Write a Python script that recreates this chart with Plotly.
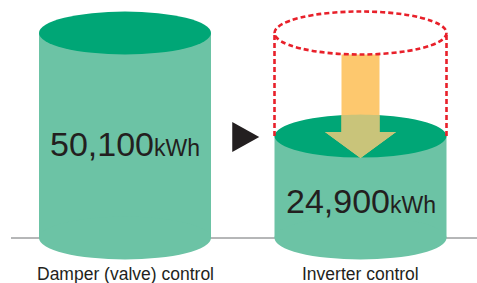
import math
import plotly.graph_objects as go

# ---- data ----
categories = ["Damper (valve) control", "Inverter control"]
values = [50100, 24900]
value_labels = ["50,100", "24,900"]
unit = "kWh"

# ---- styling ----
BODY = "#6CC3A5"
TOP = "#00A676"
ORANGE = "#FDC86E"
OLIVE = "#C9C47A"
RED = "#E8202A"
INK = "#231F20"
FONT = "Liberation Sans, Arial, sans-serif"

W, H = 477, 283
BASE_PX = 238                 # pixel row of the zero line
PX_PER_KWH = 205 / max(values)
X0_PX, DX_PX = 125, 235.5     # pixel of first category, spacing

yr = [-(H - BASE_PX) / PX_PER_KWH, BASE_PX / PX_PER_KWH]
xr = [-X0_PX / DX_PX, (W - X0_PX) / DX_PX]


def dx(p):
    return p / DX_PX


def dy(p):
    return p / PX_PER_KWH


HW = dx(86)      # cylinder half width
RY = dy(21.5)    # ellipse half height

shapes = []
# baseline
shapes.append(dict(type="line", xref="x", yref="y", x0=xr[0] + dx(11), x1=xr[1] + dx(10),
                   y0=0, y1=0, line=dict(color="#6D6E71", width=1)))

for i, v in enumerate(values):
    shapes.append(dict(type="rect", x0=i - HW, x1=i + HW, y0=0, y1=v,
                       fillcolor=BODY, line=dict(width=0)))
    shapes.append(dict(type="circle", x0=i - HW, x1=i + HW, y0=-RY, y1=RY,
                       fillcolor=BODY, line=dict(width=0)))
    shapes.append(dict(type="circle", x0=i - HW, x1=i + HW, y0=v - RY, y1=v + RY,
                       fillcolor=TOP, line=dict(width=0)))

# arrow on the second cylinder, from the old level down to the new level
xc = 1
shaft_hw, head_hw = dx(19), dx(35.5)
y_top = values[0] - RY
y_head = values[1] + dy(4)
y_tip = values[1] - dy(22)
arrow = [(xc - shaft_hw, y_top), (xc + shaft_hw, y_top), (xc + shaft_hw, y_head),
         (xc + head_hw, y_head), (xc, y_tip), (xc - head_hw, y_head), (xc - shaft_hw, y_head)]


def to_px(pt):
    return (pt[0] * DX_PX, -pt[1] * PX_PER_KWH)


def from_px(pt):
    return (pt[0] / DX_PX, -pt[1] / PX_PER_KWH)


def path_of(pts):
    return "M " + " L ".join(f"{x:.5f},{y:.3f}" for x, y in pts) + " Z"


shapes.append(dict(type="path", path=path_of(arrow), fillcolor=ORANGE, line=dict(width=0)))

# overlap of arrow with top ellipse (Sutherland-Hodgman in pixel space)
cx, cy = to_px((1, values[1]))
rxp, ryp = 86, 21.5
ell = [(cx + rxp * math.cos(t), cy + ryp * math.sin(t))
       for t in [2 * math.pi * k / 120 for k in range(120)]]
subj = [to_px(p) for p in arrow]


def inside(p, a, b):
    return (b[0] - a[0]) * (p[1] - a[1]) - (b[1] - a[1]) * (p[0] - a[0]) >= 0


def inter(p1, p2, a, b):
    x1, y1 = p1; x2, y2 = p2; x3, y3 = a; x4, y4 = b
    den = (x1 - x2) * (y3 - y4) - (y1 - y2) * (x3 - x4)
    t = ((x1 - x3) * (y3 - y4) - (y1 - y3) * (x3 - x4)) / den
    return (x1 + t * (x2 - x1), y1 + t * (y2 - y1))


out = subj
for j in range(len(ell)):
    a, b = ell[j], ell[(j + 1) % len(ell)]
    inp, out = out, []
    if not inp:
        break
    s = inp[-1]
    for e in inp:
        if inside(e, a, b):
            if not inside(s, a, b):
                out.append(inter(s, e, a, b))
            out.append(e)
        elif inside(s, a, b):
            out.append(inter(s, e, a, b))
        s = e
if out:
    shapes.append(dict(type="path", path=path_of([from_px(p) for p in out]),
                       fillcolor=OLIVE, line=dict(width=0)))

# ghost of the original cylinder (dashed red)
dash = dict(color=RED, width=2.6, dash="5px,3px")
shapes.append(dict(type="circle", x0=1 - HW, x1=1 + HW, y0=values[0] - RY, y1=values[0] + RY,
                   fillcolor="rgba(0,0,0,0)", line=dash))
for sx in (1 - HW, 1 + HW):
    shapes.append(dict(type="line", x0=sx, x1=sx, y0=values[1], y1=values[0], line=dash))

# black triangle between the two cylinders
tx = 0.5 + dx(3)
ty = values[1] + dy(-1)
tri = [(tx - dx(13.5), ty + dy(15)), (tx + dx(13.5), ty), (tx - dx(13.5), ty - dy(15))]
shapes.append(dict(type="path", path=path_of(tri), fillcolor=INK, line=dict(width=0)))

annotations = []
for i, v in enumerate(values):
    annotations.append(dict(
        x=i, y=0.553 * (v - RY) - dy(7.5), xref="x", yref="y", showarrow=False,
        text=f"{value_labels[i]}<span style='font-size:23px'>{unit}</span>",
        font=dict(family=FONT, size=34, color=INK), xanchor="center", yanchor="middle"))
    annotations.append(dict(
        x=i, y=-dy(36), xref="x", yref="y", showarrow=False, text=categories[i],
        font=dict(family=FONT, size=17.5, color=INK), xanchor="center", yanchor="middle"))

fig = go.Figure()
fig.add_trace(go.Scatter(x=[0, 1], y=values, mode="markers", marker=dict(opacity=0),
                         hoverinfo="skip", showlegend=False))
fig.update_layout(
    width=W, height=H, margin=dict(l=0, r=0, t=0, b=0),
    paper_bgcolor="white", plot_bgcolor="white",
    xaxis=dict(range=xr, visible=False, fixedrange=True),
    yaxis=dict(range=yr, visible=False, fixedrange=True),
    shapes=shapes, annotations=annotations, showlegend=False,
)
fig.write_html("out.html", config={"displayModeBar": False, "staticPlot": True},
               post_script="document.body.style.margin='0px';")
